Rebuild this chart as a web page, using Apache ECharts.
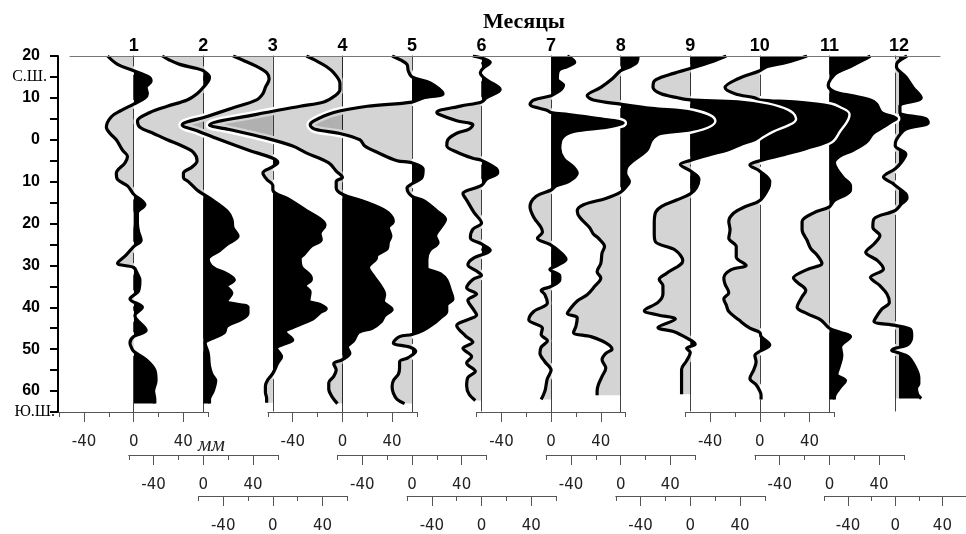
<!DOCTYPE html>
<html>
<head>
<meta charset="utf-8">
<script src="https://cdn.jsdelivr.net/npm/echarts@6/dist/echarts.min.js"></script>
<style>
  html, body { margin: 0; background: #fff; }
  #chart { width: 966px; height: 534px; }
</style>
</head>
<body>
<div id="chart"></div>
<script>
// Месяцы (подписи сверху) и подписи шкал
const MONTHS = ['1', '2', '3', '4', '5', '6', '7', '8', '9', '10', '11', '12']
const MM_TICKS = [-40, 0, 40]
const MM_MINOR = [-60, -20, 20, 60]

// Профили аномалий осадков: [широта (с.ш. > 0), мм]
const P1 = [[20,-21],[18,-13],[16.5,0],[15,12],[14,14],[12.5,10],[11,11],[10,9],[8.5,0],[7,-10],[5.5,-18],[3,-22],[1.5,-19],[0,-14],[-2.5,-9],[-4,-5],[-5.5,-7],[-8,-14],[-9.5,-13],[-11,-5],[-13,0],[-15.5,9],[-17.5,3],[-20,3],[-22,4],[-24,6],[-25.5,0],[-27.5,-6],[-29.5,-13],[-30.5,0],[-32,3],[-33.5,5],[-36,4],[-38,-3],[-40,7],[-42,1],[-45.5,10],[-47,0],[-48.5,-3],[-49.5,-2],[-50.5,0],[-52.5,10],[-55,17],[-57.5,18],[-60,16],[-62,17],[-63,17]]
const P2 = [[20,-33],[19,-27],[18,-19],[17,-5],[16.5,0],[15,5],[14,4],[12.5,0],[11,-5],[9.5,-13],[8,-29],[6.5,-43],[4.5,-53],[3,-51],[1.5,-40],[0,-29],[-1.5,-17],[-3,-8],[-5,-5],[-6.5,-9],[-8,-16],[-9,-16],[-10,-12],[-12,-5],[-13,0],[-14.5,8],[-17,19],[-19,23],[-21,24],[-23,28],[-25,19],[-26.5,13],[-28.5,4],[-30.5,8],[-32,19],[-33.5,25],[-35,19],[-36.5,23],[-38.5,19],[-40,36],[-41.5,36],[-43,30],[-44.5,19],[-46,17],[-47.5,7],[-48.5,1.5],[-51,4],[-54,5],[-56,7],[-57.5,10],[-60,8],[-62,5],[-63,5]]
const P3 = [[20,-32],[19,-24],[17.5,-13],[16,-5],[14.5,-3],[12.5,-6],[11,-8],[9.5,-13],[7.5,-33],[5.5,-53],[3.5,-73],[2,-60],[0,-43],[-2.5,-20],[-4.5,0],[-5.5,4],[-6.5,0],[-8,-8],[-9.5,-5],[-11,0],[-12,0],[-14.5,14],[-17,27],[-19,38],[-20.5,42],[-22.5,38],[-24,39],[-25.5,31],[-27.5,25],[-28.5,22],[-30.5,23],[-32.5,30],[-33.5,31],[-35,26],[-36.5,30],[-38.5,29],[-39.5,38],[-40.5,43],[-41.5,38],[-43,32],[-45,16],[-46,10],[-48,16],[-49,9],[-50,3],[-52,7],[-53.5,4],[-56,0],[-57.5,-4],[-59,-6],[-60.5,-6],[-62,-5],[-63,-5]]
const P4 = [[20,-29],[19,-22],[17.5,-13],[16,-7],[13.5,-2],[12,-2],[10.5,-6],[9,-15],[8,-34],[6,-70],[3.5,-107],[2.5,-92],[0.5,-63],[-1.5,-40],[-3,-30],[-5.5,-11],[-7.5,-5],[-9,0],[-10,-5],[-11.5,-5],[-13,0],[-14.5,15],[-16,28],[-17.5,37],[-19.5,41],[-21,37],[-23,39],[-24.5,37],[-26,36],[-27.5,28],[-28.5,27],[-30.5,21],[-32.5,25],[-35,31],[-37,34],[-38.5,33],[-40.5,40],[-42,34],[-43.5,31],[-45,24],[-46,13],[-48,9],[-49.5,4],[-51,6],[-52.5,0],[-53.5,-7],[-55,-5],[-56.5,-7],[-58,-11],[-59.5,-11],[-61.5,-8],[-63,-4]]
const P5 = [[20,-16],[19,-9],[18,-4],[16.5,-3],[15,0],[13.5,15],[11,25],[10,9],[9,0],[8,-36],[6.5,-63],[4.5,-79],[3.5,-82],[2.5,-78],[1.5,-58],[0,-42],[-1.5,-38],[-3,-28],[-5,-12],[-5.5,0],[-7,9],[-9,8],[-10.5,0],[-11.5,-4],[-13.5,0],[-14.5,9],[-17,20],[-19,27],[-21,23],[-23,19],[-24.5,21],[-26.5,14],[-28.5,12],[-30.5,12],[-32,23],[-33.5,28],[-36,31],[-38,33],[-39.5,28],[-41,28],[-42.5,23],[-44,17],[-45.5,9],[-46.5,0],[-47,-10],[-48.5,-15],[-49.5,-2],[-50.5,3],[-52,-3],[-53,-10],[-54.5,-10],[-56,-11],[-57.5,-15],[-59,-16],[-60.5,-15],[-62,-12],[-63,-6]]
const P6 = [[20,-7],[19.5,0],[18.5,7],[17,1],[16,-1],[14.5,3],[12,15],[10,4],[9,0],[8,-17],[6.5,-36],[6,-34],[4.5,-20],[3.5,-7],[2.5,-10],[1.5,-20],[0,-27],[-1.5,-28],[-3,-20],[-4.5,-7],[-5,0],[-7,12],[-8,13],[-9.5,4],[-11,0],[-13,-15],[-14.5,-12],[-17.5,-6],[-20,0],[-21.5,-7],[-23.5,-9],[-25,0],[-26.5,7],[-28.5,-7],[-30,-11],[-31.5,-4],[-32.5,0],[-33.5,-7],[-35.5,-12],[-37,-4],[-38.5,-11],[-40.5,-7],[-42,-4],[-43,-10],[-44.5,-20],[-47,-13],[-48.5,-7],[-50,-15],[-52,-8],[-53.5,-12],[-55.5,-5],[-57,-11],[-59,-12],[-61,-10],[-62.5,-5]]
const P7 = [[20,13],[18.5,19],[17.5,13],[16.5,6],[14.5,5],[13,10],[12,8],[11,3],[10.5,0],[9.5,-14],[8.5,-17],[7,-3],[6.5,0],[6,14],[5,40],[4,58],[3,45],[2,18],[0.5,9],[-2,7],[-4.5,10],[-6.5,18],[-8,21],[-10,14],[-11,4],[-12,0],[-13.5,-12],[-16,-17],[-18.5,-14],[-21,-8],[-22,-7],[-23.5,-11],[-25,-1],[-27,8],[-28.5,12],[-30,5],[-31,-1],[-32.5,7],[-33.5,7],[-35,0],[-36,-8],[-37,-5],[-39,-3],[-41,-14],[-43,-18],[-45,-7],[-46.5,-8],[-48,-3],[-49.5,-8],[-51,-9],[-53,-5],[-55,0],[-57,-3],[-58.5,-4],[-60,-5],[-62,-8]]
const P8 = [[20,14],[18.5,13],[17.5,8],[16.5,0],[14.5,-7],[12.5,-16],[10.5,-27],[9.5,-22],[8.5,0],[7.5,25],[6.5,58],[4.5,74],[2.5,58],[1.5,32],[0,25],[-2.5,21],[-5,10],[-6.5,5],[-8,4],[-10,7],[-11,5],[-12.5,0],[-14,-12],[-15.5,-30],[-17,-35],[-18.5,-33],[-21,-25],[-22.5,-22],[-23.5,-18],[-25.5,-13],[-27,-15],[-29.5,-16],[-31.5,-19],[-33,-16],[-35,-21],[-37,-27],[-38.5,-35],[-40.5,-41],[-41.5,-43],[-42.5,-35],[-44.5,-36],[-46,-38],[-47,-24],[-48.5,-12],[-50,-7],[-51,-12],[-52.5,-15],[-54.5,-12],[-56.5,-15],[-58.5,-18],[-60,-19],[-61,-19]]
const P9 = [[20,29],[18.5,16],[17,0],[15.5,-17],[14,-29],[12.5,-30],[11,-24],[10,-10],[9.5,0],[9,38],[8,62],[6.5,78],[5,83],[4,78],[2.5,66],[1,57],[0,52],[-1,42],[-2.5,30],[-3.5,17],[-5,0],[-6,-8],[-7.5,0],[-9.5,7],[-11.5,5],[-13,0],[-14.5,-11],[-16,-23],[-17.5,-28],[-20,-29],[-22.5,-29],[-24.5,-28],[-26.5,-12],[-29,-6],[-32,-19],[-33.5,-25],[-35,-22],[-37,-22],[-39,-26],[-41,-37],[-42,-26],[-43,-12],[-45,-26],[-46,-13],[-47.5,-3],[-49,4],[-50,-3],[-51,0],[-53,-3],[-55,-7],[-57,-7],[-59,-7],[-61,-7]]
const P10 = [[20,38],[18.5,22],[17.5,6],[16.5,0],[14.5,-18],[12.5,-28],[11,-20],[10,-4],[9.5,0],[9,30],[8,57],[7,65],[6,70],[4.5,68],[2.5,63],[0,57],[-2,38],[-3.5,20],[-5,0],[-6,-8],[-7.5,0],[-10,8],[-11.5,7],[-14.5,0],[-16,-12],[-17.5,-21],[-19.5,-25],[-21.5,-24],[-23.5,-25],[-25.5,-19],[-28,-19],[-30,-11],[-31,-23],[-33,-29],[-34.5,-28],[-36.5,-25],[-38,-29],[-39.5,-27],[-41,-25],[-43,-17],[-45,-8],[-46,0],[-47,1],[-49,8],[-50.5,0],[-51.5,-4],[-53,-3],[-55,-5],[-57,-8],[-58.5,-3],[-60,0],[-61,1],[-62,1]]
const P11 = [[20,33],[19,27],[17.5,17],[16,6],[14.5,1],[13,-1],[11.5,4],[10.5,19],[9.5,33],[8.5,38],[6.5,42],[5,54],[4.5,51],[3,43],[1.5,35],[-0.5,30],[-2.5,19],[-4,8],[-5.5,4],[-7,6],[-9,11],[-11,17],[-12,17],[-13,14],[-14.5,4],[-16,0],[-17.5,-13],[-19.5,-22],[-21.5,-22],[-24,-18],[-26,-15],[-27.5,-10],[-29.5,-6],[-31,-18],[-33,-29],[-34,-26],[-36,-19],[-37.5,-22],[-40,-26],[-41.5,-18],[-43,-7],[-45,0],[-46,9],[-47,17],[-49.5,9],[-51.5,10],[-54,8],[-56,6],[-57.5,13],[-59,9],[-61.5,4],[-62,4]]
const P12 = [[20,10],[18.5,2],[17.5,1],[15,9],[12.5,15],[10,22],[8,4],[6.5,4],[5,26],[4,28],[2.5,9],[0,1],[-1.5,0],[-3.5,9],[-5.5,5],[-7,0],[-9,-10],[-10.5,-2],[-11,0],[-13,9],[-14,10],[-15.5,5],[-17,0],[-19,-18],[-21,-19],[-23,-13],[-25,-18],[-27,-25],[-29,-15],[-31,-10],[-33,-21],[-35,-13],[-37,-7],[-39,-5],[-40.5,-11],[-42,-15],[-43.5,-18],[-44.5,0],[-45.5,13],[-47,14],[-49,11],[-50,0],[-50.5,-3],[-51,2],[-52,11],[-54.5,17],[-57,20],[-58.5,20],[-59.5,18],[-61,19],[-62,22]]
const PROFILES = [P1, P2, P3, P4, P5, P6, P7, P8, P9, P10, P11, P12]

// Геометрия
const Z0 = 133.7          // x нуля января
const DZ = 69.57          // шаг между месяцами
const PX_MM = 149 / 120   // пикселей на мм
const TOP = 56
const BOTTOM = 412
const ROW_OFFSET = [0, 43, 85]
// порядок отрисовки: серые клинья слева направо, чёрные справа налево
const DRAW_ORDER = [0, 1, 2, 3, 4, 5, 11, 10, 9, 8, 7, 6]

const GRAY = 'rgba(0,0,0,0.17)'
const TICK_FONT = { fontFamily: 'DejaVu Sans', fontSize: 15, color: '#222' }

// категории широт через 0.5°: от 65 ю.ш. до 20 с.ш.
const latCats = []
for (let i = 0; i <= 170; i++) latCats.push(String(-65 + i / 2))
const latIndex = (lat) => Math.round((lat + 65) * 2)
const zeroX = (m) => Z0 + DZ * m

const grids = []
const xAxes = []
const yAxes = []
const series = []

PROFILES.forEach((p, m) => {
  const z = zeroX(m)
  const offset = ROW_OFFSET[m % 3]
  grids.push({ left: z - 60 * PX_MM, width: 120 * PX_MM, top: TOP, height: BOTTOM - TOP })

  // шкала мм: линия + короткие штрихи
  xAxes.push({
    gridIndex: m, type: 'value', min: -60, max: 60, interval: 20,
    position: 'bottom', offset,
    axisLine: { show: true, onZero: false, lineStyle: { color: '#555', width: 1 } },
    axisTick: { show: true, length: 5, customValues: MM_MINOR, lineStyle: { color: '#555' } },
    axisLabel: { show: false },
    splitLine: { show: false }
  })
  // длинные штрихи и подписи
  xAxes.push({
    gridIndex: m, type: 'value', min: -60, max: 60, interval: 20,
    position: 'bottom', offset,
    axisLine: { show: false, onZero: false },
    axisTick: { show: true, length: 10, customValues: MM_TICKS, lineStyle: { color: '#555' } },
    axisLabel: { show: true, customValues: MM_TICKS, margin: 23, ...TICK_FONT },
    splitLine: { show: false }
  })
  // нулевая линия месяца
  yAxes.push({
    gridIndex: m, type: 'category', data: latCats, boundaryGap: false,
    axisLine: { show: true, onZero: true, lineStyle: { color: '#444', width: 1 } },
    axisTick: { show: false },
    axisLabel: { show: false },
    splitLine: { show: false }
  })
})

DRAW_ORDER.forEach((m, k) => {
  const z = zeroX(m)
  const data = PROFILES[m].map(([lat, v]) => [v, latIndex(lat)])
  const base = {
    type: 'line', xAxisIndex: 2 * m, yAxisIndex: m, data,
    smooth: 0.35, symbol: 'none', showSymbol: false, clip: false, silent: true
  }
  // белая окантовка кривой
  series.push({ ...base, z: 3 + k * 3, lineStyle: { color: '#fff', width: 8 } })
  // заливка: слева от нуля серая, справа чёрная
  series.push({
    ...base, z: 4 + k * 3,
    lineStyle: { width: 0, opacity: 0 },
    areaStyle: {
      opacity: 1,
      color: new echarts.graphic.LinearGradient(z - 0.5, 0, z + 0.5, 0, [
        { offset: 0, color: GRAY },
        { offset: 0.5, color: GRAY },
        { offset: 0.5, color: '#000' },
        { offset: 1, color: '#000' }
      ], true)
    }
  })
  series.push({ ...base, z: 5 + k * 3, lineStyle: { color: '#000', width: 3.2 } })
})

// рамка: верхняя линия с номерами месяцев и шкала широт
const FRAME_LEFT = 70
const FRAME_RIGHT = 940
grids.push({ left: FRAME_LEFT, right: 966 - FRAME_RIGHT, top: TOP, height: BOTTOM - TOP })
xAxes.push({
  gridIndex: 12, type: 'value', position: 'top', z: 100,
  min: 1 - (Z0 - FRAME_LEFT) / DZ,
  max: 12 + (FRAME_RIGHT - zeroX(11)) / DZ,
  axisLine: { show: true, onZero: false, lineStyle: { color: '#777', width: 1 } },
  axisTick: { show: false },
  axisLabel: {
    show: true, customValues: MONTHS.map(Number), margin: 1,
    formatter: (v) => MONTHS[v - 1],
    fontFamily: 'Liberation Sans', fontWeight: 'bold', fontSize: 18, color: '#000'
  },
  splitLine: { show: false }
})
yAxes.push({
  gridIndex: 12, type: 'value', min: -65, max: 20, interval: 5,
  position: 'left', offset: FRAME_LEFT - 58, z: 100,
  axisLine: { show: true, onZero: false, lineStyle: { color: '#000', width: 2 } },
  axisTick: { show: true, length: 8, lineStyle: { color: '#000', width: 2 } },
  axisLabel: {
    show: true, margin: 3, showMinLabel: true, showMaxLabel: true,
    formatter: (v) => {
      if (v === 15) return '{s|С.Ш.}'
      if (v === -65) return '{e|Ю.Ш.}'
      return v % 10 === 0 ? '{n|' + Math.abs(v) + '}' : ''
    },
    rich: {
      n: { fontFamily: 'Liberation Sans', fontWeight: 'bold', fontSize: 16, color: '#000', padding: [0, 15, 0, 0] },
      s: { fontFamily: 'Liberation Serif', fontSize: 16, color: '#000', padding: [0, 8, 0, 0] },
      e: { fontFamily: 'Liberation Serif', fontSize: 16, color: '#000' }
    }
  },
  splitLine: { show: false }
})

const chart = echarts.init(document.getElementById('chart'))
chart.setOption({
  animation: false,
  backgroundColor: '#fff',
  title: {
    text: 'Месяцы', left: 478, top: 6,
    textStyle: { fontFamily: 'Liberation Serif', fontWeight: 'bold', fontSize: 22, color: '#000' }
  },
  graphic: [{
    type: 'text', left: 198, top: 435,
    style: { text: 'мм', font: 'italic 21px "Liberation Serif"', fill: '#222' }
  }],
  grid: grids,
  xAxis: xAxes,
  yAxis: yAxes,
  series
})
</script>
</body>
</html>
